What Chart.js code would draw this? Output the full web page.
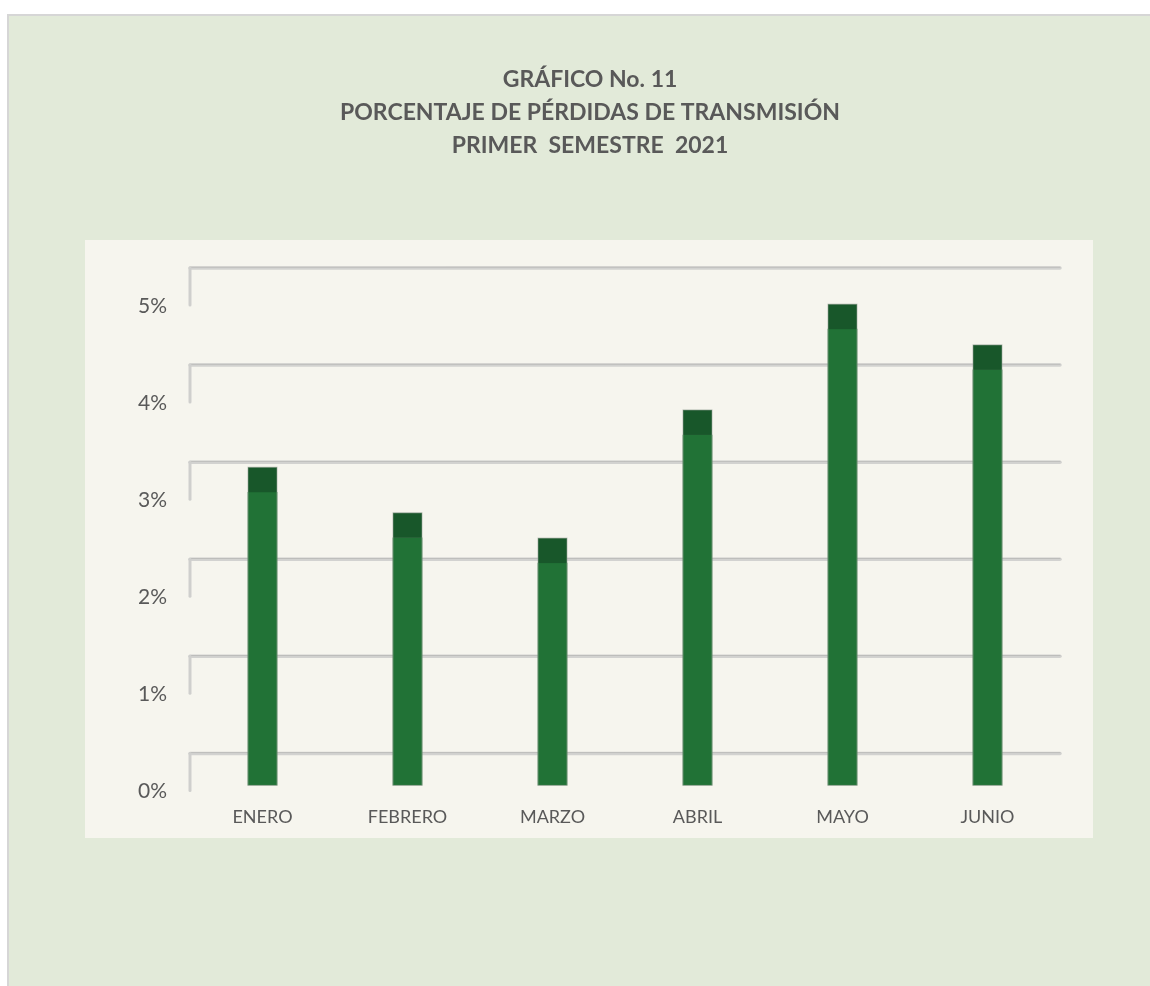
<!DOCTYPE html>
<html>
<head>
<meta charset="utf-8">
<script src="https://cdn.jsdelivr.net/npm/chart.js@4.4.1/dist/chart.umd.min.js"></script>
<style>
  html, body { margin: 0; padding: 0; background: #ffffff; width: 1150px; height: 986px; overflow: hidden; }
  #outer { position: absolute; left: 7px; top: 14px; width: 1143px; height: 972px; background: #E2EAD9; border-left: 2px solid #D6D6D6; border-top: 2px solid #D6D6D6; box-sizing: border-box; }
  #inner { position: absolute; left: 85px; top: 240px; width: 1008px; height: 598px; background: #F6F5EE; }
  #wrap { position: absolute; left: 0; top: 0; width: 1150px; height: 986px; }
</style>
</head>
<body>
<div id="outer"></div>
<div id="inner"></div>
<div id="wrap"><canvas id="c" width="1150" height="986"></canvas></div>
<script>
const titleLines = ['GRÁFICO No. 11', 'PORCENTAJE DE PÉRDIDAS DE TRANSMISIÓN', 'PRIMER  SEMESTRE  2021'];
const categories = ['ENERO', 'FEBRERO', 'MARZO', 'ABRIL', 'MAYO', 'JUNIO'];
const lossPercent = [3.02, 2.55, 2.29, 3.61, 4.70, 4.28];
const yTickValues = [0, 1, 2, 3, 4, 5];

const BACK_SHIFT = 32;   // px from bar front to back wall
const WALL_DEPTH = 37;   // px left wall depth
const CAP_DEPTH = 25;    // px bar top face

const wallGrid = {
  id: 'wallGrid',
  beforeDatasetsDraw(chart) {
    const ctx = chart.ctx, y = chart.scales.y, area = chart.chartArea;
    ctx.save();
    ctx.lineCap = 'round';
    yTickValues.forEach(v => {
      const py = y.getPixelForValue(v) - BACK_SHIFT;
      ctx.beginPath();
      ctx.strokeStyle = '#D2D2D0';
      ctx.lineWidth = 3.5;
      ctx.moveTo(area.left, py); ctx.lineTo(area.right, py);
      ctx.stroke();
      ctx.beginPath();
      ctx.strokeStyle = '#BDBDBB';
      ctx.lineWidth = 1;
      ctx.moveTo(area.left, py - 0.8); ctx.lineTo(area.right, py - 0.8);
      ctx.stroke();
      ctx.beginPath();
      ctx.strokeStyle = '#CFCFCD';
      ctx.lineWidth = 3;
      ctx.moveTo(area.left, py); ctx.lineTo(area.left, py + WALL_DEPTH);
      ctx.stroke();
    });
    ctx.restore();
  }
};

const barCaps = {
  id: 'barCaps',
  afterDatasetsDraw(chart) {
    const ctx = chart.ctx;
    const meta = chart.getDatasetMeta(0);
    ctx.save();
    meta.data.forEach(el => {
      const w = el.width;
      ctx.fillStyle = '#18572A';
      ctx.fillRect(el.x - w / 2, el.y - CAP_DEPTH, w, CAP_DEPTH);
      ctx.strokeStyle = 'rgba(150,160,150,0.6)';
      ctx.lineWidth = 1;
      ctx.strokeRect(el.x - w / 2, el.y - CAP_DEPTH, w, el.base - el.y + CAP_DEPTH);
    });
    ctx.restore();
  }
};

new Chart(document.getElementById('c'), {
  type: 'bar',
  data: {
    labels: categories,
    datasets: [{
      data: lossPercent,
      backgroundColor: '#217236',
      borderWidth: 0,
      barThickness: 29
    }]
  },
  options: {
    responsive: false,
    animation: false,
    events: [],
    layout: { padding: { left: 120, right: 90, top: 0, bottom: 137 } },
    plugins: {
      legend: { display: false },
      tooltip: { enabled: false },
      title: {
        display: true,
        text: titleLines,
        color: '#595959',
        font: { family: 'Lato', size: 23, weight: 'bold', lineHeight: 33 / 23 },
        padding: { top: 63.5, bottom: 89 }
      }
    },
    scales: {
      x: {
        grid: { display: false, drawTicks: false },
        border: { display: false },
        ticks: { color: '#595959', font: { family: 'Lato', size: 18 }, padding: 21 }
      },
      y: {
        min: 0,
        max: 5.5,
        grid: { display: false, drawTicks: false },
        border: { display: false },
        afterBuildTicks(scale) { scale.ticks = yTickValues.map(v => ({ value: v })); },
        afterFit(scale) { scale.width = 70; },
        ticks: {
          color: '#595959',
          font: { family: 'Lato', size: 21 },
          padding: 23,
          labelOffset: 6,
          callback: v => v + '%'
        }
      }
    }
  },
  plugins: [wallGrid, barCaps]
});
</script>
</body>
</html>
